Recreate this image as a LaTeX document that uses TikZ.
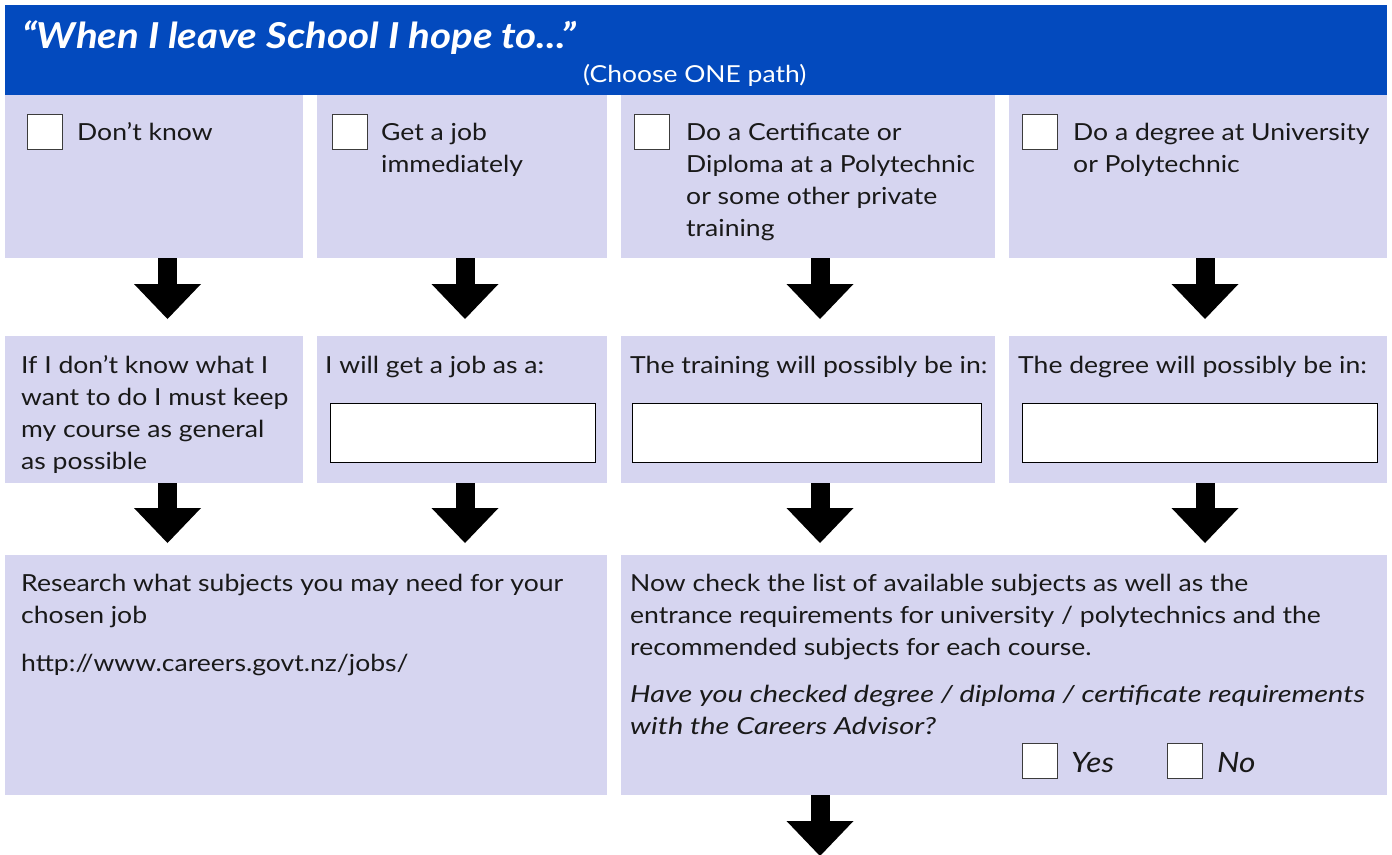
\documentclass[tikz,border=0pt]{standalone}
\usepackage{fontspec}
\setmainfont{Lato}[FakeStretch=1.13]
\newfontfamily\askfont{Lato}[FakeStretch=1.23]
\usetikzlibrary{arrows.meta, positioning}
\definecolor{headblue}{RGB}{3,74,190}
\definecolor{cellfill}{RGB}{214,213,240}
\definecolor{boxline}{RGB}{60,60,60}
\tikzset{
    cell/.style={fill=cellfill, anchor=north west, inner sep=0pt, outer sep=0pt},
    tick/.style={draw=boxline, fill=white, line width=1pt, minimum size=35pt, inner sep=0pt, anchor=north west},
    field/.style={draw=black, fill=white, line width=1pt, minimum height=59pt, inner sep=0pt, anchor=north west},
    txt/.style={anchor=base west, inner sep=0pt, align=left, text=black!90, font=\fontsize{23.5}{32}\selectfont},
    bigarrow/.style={line width=19pt, -{Triangle[length=35pt, width=67pt, line width=0pt]}}
}
\newcommand{\ask}[1]{{\askfont\itshape #1}}
\begin{document}
\begin{tikzpicture}[x=1pt, y=-1pt]
    \useasboundingbox (0,0) rectangle (1392,854);
    % header (base anchors below sit on the last line of each text)
    \node[fill=headblue, anchor=north west, inner sep=0pt, minimum width=1382pt, minimum height=90pt] (head) at (5,5) {};
    \node[anchor=base west, inner sep=0pt, text=white, font=\fontsize{35.7}{40}\selectfont\bfseries\itshape] (title) at (22,48) {“When I leave School I hope to...”};
    \node[anchor=base west, inner sep=0pt, text=white, font=\fontsize{23.4}{26}\selectfont] (choose) at (583,82) {(Choose ONE path)};
    % choices
    \node[cell, minimum width=298pt, minimum height=163pt] (q1) at (5,95) {};
    \node[cell, minimum width=290pt, minimum height=163pt] (q2) at (317,95) {};
    \node[cell, minimum width=374pt, minimum height=163pt] (q3) at (621,95) {};
    \node[cell, minimum width=378pt, minimum height=163pt] (q4) at (1009,95) {};
    \node[tick] (t1) at (27,114) {};
    \node[tick] (t2) at (332,114) {};
    \node[tick] (t3) at (634,114) {};
    \node[tick] (t4) at (1022,114) {};
    \node[txt] (a1) at (77,140) {Don’t know};
    \node[txt] (a2) at (381,172) {Get a job\\immediately};
    \node[txt] (a3) at (686,236) {Do a Certificate or\\Diploma at a Polytechnic\\or some other private\\training};
    \node[txt] (a4) at (1073,172) {Do a degree at University\\or Polytechnic};
    % plans
    \node[cell, minimum width=298pt, minimum height=147pt] (p1) at (5,336) {};
    \node[cell, minimum width=290pt, minimum height=147pt] (p2) at (317,336) {};
    \node[cell, minimum width=374pt, minimum height=147pt] (p3) at (621,336) {};
    \node[cell, minimum width=378pt, minimum height=147pt] (p4) at (1009,336) {};
    \node[txt] (b1) at (21,469) {If I don’t know what I\\want to do I must keep\\my course as general\\as possible};
    \node[txt] (b2) at (325,373) {I will get a job as a:};
    \node[txt] (b3) at (630,373) {The training will possibly be in:};
    \node[txt] (b4) at (1018,373) {The degree will possibly be in:};
    \node[field, minimum width=265pt] (f2) at (330,403) {};
    \node[field, minimum width=349pt] (f3) at (632,403) {};
    \node[field, minimum width=355pt] (f4) at (1022,403) {};
    % next steps
    \node[cell, minimum width=602pt, minimum height=240pt] (r1) at (5,555) {};
    \node[cell, minimum width=766pt, minimum height=240pt] (r2) at (621,555) {};
    \node[txt] (c1) at (21,671) {Research what subjects you may need for your\\chosen job\\[16pt]http://www.careers.govt.nz/jobs/};
    \node[txt] (c2) at (630,734) {Now check the list of available subjects as well as the\\entrance requirements for university / polytechnics and the\\recommended subjects for each course.\\[15pt]\ask{Have you checked degree / diploma / certificate requirements}\\\ask{with the Careers Advisor?}};
    \node[tick] (yes) at (1022,743) {};
    \node[tick] (no) at (1167,743) {};
    \node[txt, font=\fontsize{28}{32}\selectfont\itshape] at (1071,772) {Yes};
    \node[txt, font=\fontsize{28}{32}\selectfont\itshape] at (1217,772) {No};
    % arrows
    \draw[bigarrow, shorten >=17pt] ([xshift=13.5pt]q1.south) -- ([xshift=13.5pt]p1.north);
    \draw[bigarrow, shorten >=17pt] ([xshift=3pt]q2.south) -- ([xshift=3pt]p2.north);
    \draw[bigarrow, shorten >=17pt] ([xshift=12pt]q3.south) -- ([xshift=12pt]p3.north);
    \draw[bigarrow, shorten >=17pt] ([xshift=7pt]q4.south) -- ([xshift=7pt]p4.north);
    \draw[bigarrow, shorten >=12pt] ([xshift=13.5pt]p1.south) -- ([xshift=13.5pt]p1.south |- r1.north);
    \draw[bigarrow, shorten >=12pt] ([xshift=3pt]p2.south) -- ([xshift=3pt]p2.south |- r1.north);
    \draw[bigarrow, shorten >=12pt] ([xshift=12pt]p3.south) -- ([xshift=12pt]p3.south |- r2.north);
    \draw[bigarrow, shorten >=12pt] ([xshift=7pt]p4.south) -- ([xshift=7pt]p4.south |- r2.north);
    \coordinate (out) at (820,856);
    \draw[bigarrow] (r2.south -| out) -- (out);
\end{tikzpicture}
\end{document}
